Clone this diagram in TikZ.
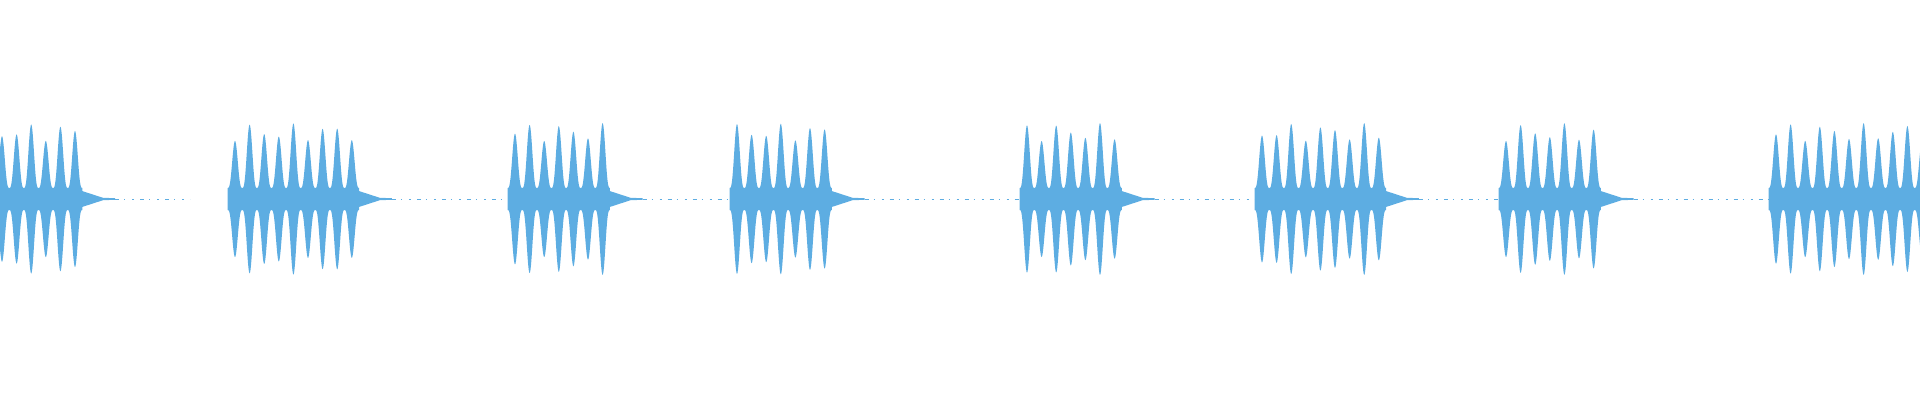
\documentclass[tikz,border=0pt]{standalone}
\definecolor{wave}{RGB}{93,173,226}
\begin{document}
\begin{tikzpicture}[x=1pt,y=-1pt,wv/.style={fill=wave,draw=none}]
\useasboundingbox (0,0) rectangle (1920,400);
\def\cy{199}
% bursts: first peak x / number of pulses / end of baseline dots
\foreach \s/\n/\e [count=\b] in {2/6/190, 235/9/510, 515/7/730, 737/7/1020, 1027/7/1255, 1262/9/1500, 1506/7/1770, 1776/11/1920}{
  \pgfmathsetmacro\last{\s+(\n-1)*14.6}
  % base band
  \fill[wv] (\s-5,\cy-11) rectangle (\last+5,\cy+11);
  % decay tail
  \fill[wv] (\last+4,\cy-9) -- (\last+28,\cy-1.2) -- (\last+40,\cy-0.8) -- (\last+40,\cy+0.8) -- (\last+28,\cy+1.2) -- (\last+4,\cy+9) -- cycle;
  % dotted baseline
  \draw[wave,line width=0.7pt,dash pattern=on 4pt off 5pt on 1pt off 7pt on 2pt off 6pt] (\last+40,\cy) -- (\e,\cy);
  \foreach \k in {1,...,\n}{
    \pgfmathsetmacro\c{\s+(\k-1)*14.6}
    \pgfmathsetmacro\h{67+9*sin(\k*137+\b*71)}
    \fill[wv] plot[domain=-7.3:7.3,samples=31] (\c+\x,{\cy-11-(\h-11)*(cos(180*\x/14.6))^3})
      -- plot[domain=7.3:-7.3,samples=31] (\c+\x,{\cy+11+(\h-11)*(cos(180*\x/14.6))^3}) -- cycle;
  }
}
\end{tikzpicture}
\end{document}
